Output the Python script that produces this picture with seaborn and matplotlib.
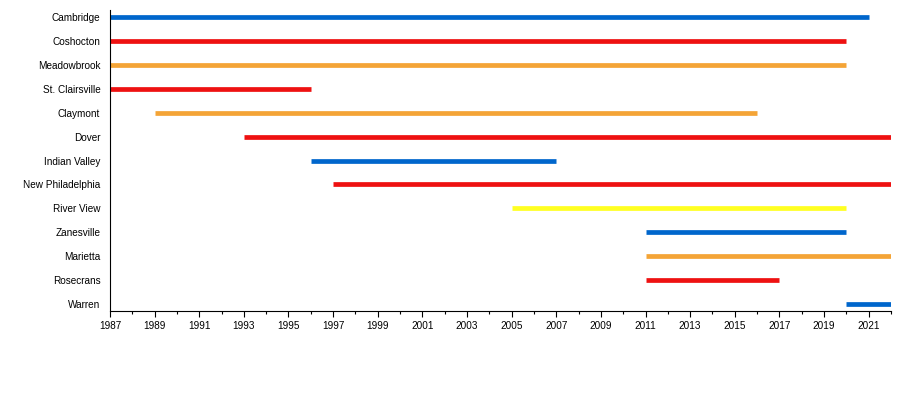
import matplotlib
matplotlib.use("Agg")
import matplotlib.pyplot as plt
import seaborn as sns
import pandas as pd

# schools / membership spans
schools = ["Cambridge", "Coshocton", "Meadowbrook", "St. Clairsville", "Claymont",
           "Dover", "Indian Valley", "New Philadelphia", "River View", "Zanesville",
           "Marietta", "Rosecrans", "Warren"]
start_year = [1987, 1987, 1987, 1987, 1989, 1993, 1996, 1997, 2005, 2011, 2011, 2011, 2020]
end_year = [2021, 2020, 2020, 1996, 2016, 2022, 2007, 2022, 2020, 2020, 2022, 2017, 2022]
colors = ["#0066CC", "#EE1111", "#F4A436", "#EE1111", "#F4A436", "#EE1111", "#0066CC",
          "#EE1111", "#FFFF22", "#0066CC", "#F4A436", "#EE1111", "#0066CC"]

df = pd.DataFrame({"school": schools, "start": start_year, "end": end_year, "color": colors})

sns.set_style("ticks")
plt.rcParams["font.family"] = ["Liberation Sans", "DejaVu Sans"]

fig = plt.figure(figsize=(9, 4), dpi=100)
ax = fig.add_axes([0.1222, 0.2225, 0.8678, 0.7525])

for i, row in df.iterrows():
    ax.hlines(i, row["start"], row["end"], color=row["color"], linewidth=3.4)

ax.set_yticks(range(len(schools)))
ax.set_yticklabels(schools, fontsize=7.2)
ax.tick_params(axis="y", length=0, pad=7, labelcolor="black")
ax.set_ylim(len(schools) - 0.7, -0.3)

ax.set_xlim(1987, 2022)
ax.set_xticks(range(1987, 2022, 2))
ax.set_xticks(range(1987, 2023), minor=True)
ax.tick_params(axis="x", which="major", length=4, width=0.8, labelsize=7.2, pad=3,
               color="black", labelcolor="black")
ax.tick_params(axis="x", which="minor", length=2.5, width=0.8, color="black")

sns.despine(ax=ax)
for s in ["left", "bottom"]:
    ax.spines[s].set_linewidth(0.8)
    ax.spines[s].set_color("black")

fig.savefig("out.png", dpi=100)
